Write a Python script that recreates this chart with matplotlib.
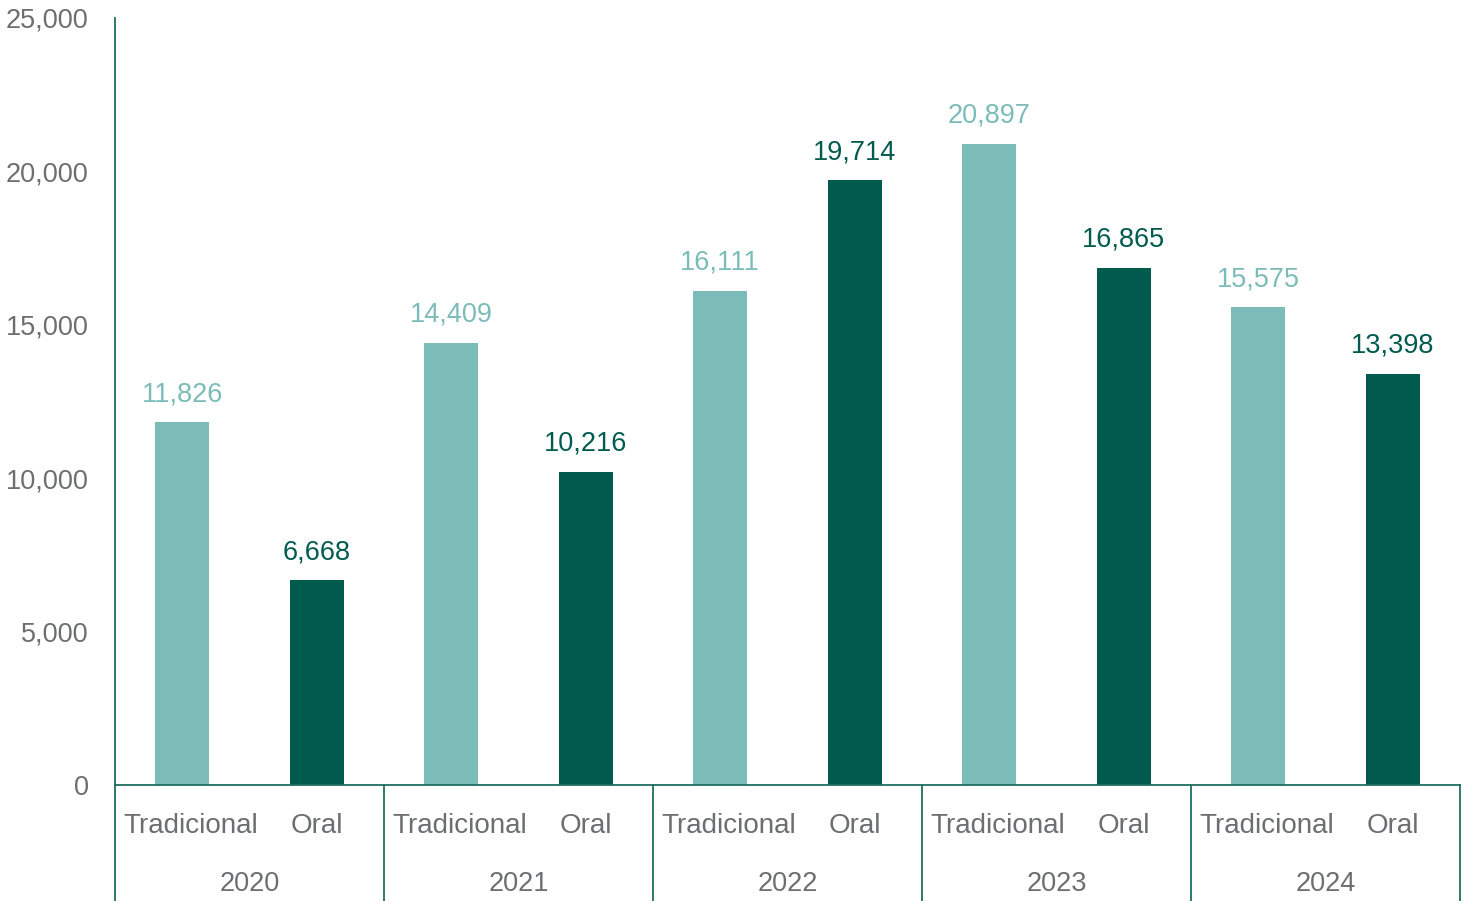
import matplotlib
matplotlib.use("Agg")
import matplotlib.pyplot as plt
import numpy as np

years = ["2020", "2021", "2022", "2023", "2024"]
types = ["Tradicional", "Oral"]
tradicional = [11826, 14409, 16111, 20897, 15575]
oral = [6668, 10216, 19714, 16865, 13398]
yticks = [0, 5000, 10000, 15000, 20000, 25000]

light = "#7BBCB9"
dark = "#005B4F"
axis_col = "#1E6E60"
gray = "#6D6E71"

plt.rcParams["font.family"] = ["Liberation Sans", "DejaVu Sans"]

W, H = 1466, 901
fig = plt.figure(figsize=(W / 100, H / 100), dpi=100)
left, right, top, bottom = 115, 1460, 18, 785
ax = fig.add_axes([left / W, (H - bottom) / H, (right - left) / W, (bottom - top) / H])
axh = bottom - top

n = len(years)
xt = np.arange(n) * 2
xo = xt + 1
bw = 0.4
ax.bar(xt, tradicional, width=bw, color=light, zorder=2)
ax.bar(xo, oral, width=bw, color=dark, zorder=2)

for x, v in zip(xt, tradicional):
    ax.annotate(f"{v:,}", (x, v), xytext=(0, 15), textcoords="offset pixels",
                ha="center", va="bottom", fontsize=19.5, color=light)
for x, v in zip(xo, oral):
    ax.annotate(f"{v:,}", (x, v), xytext=(0, 15), textcoords="offset pixels",
                ha="center", va="bottom", fontsize=19.5, color=dark, fontweight="medium")

ax.set_xlim(-0.5, 2 * n - 0.5)
ax.set_ylim(0, 25000)
ax.set_yticks(yticks)
ax.set_yticklabels([f"{t:,}" for t in yticks], fontsize=19.5, color=gray)
ax.tick_params(axis="y", length=0, pad=19)
ax.set_xticks([])

for s in ["top", "right"]:
    ax.spines[s].set_visible(False)
for s in ["left", "bottom"]:
    ax.spines[s].set_color(axis_col)
    ax.spines[s].set_linewidth(1.3)

trans = ax.get_xaxis_transform()
ybot = -(H - bottom) / axh
for b in np.arange(n + 1) * 2 - 0.5:
    ax.plot([b, b], [0, ybot], transform=trans, color=axis_col, lw=1.3, clip_on=False)

for i in range(n):
    ax.text(xt[i] + 0.06, -41 / axh, types[0], transform=trans, ha="center", va="center",
            fontsize=20, color=gray)
    ax.text(xo[i], -41 / axh, types[1], transform=trans, ha="center", va="center",
            fontsize=20, color=gray)
    ax.text(xt[i] + 0.5, -99 / axh, years[i], transform=trans, ha="center", va="center",
            fontsize=19.5, color=gray)

fig.savefig("out.png", dpi=100)
